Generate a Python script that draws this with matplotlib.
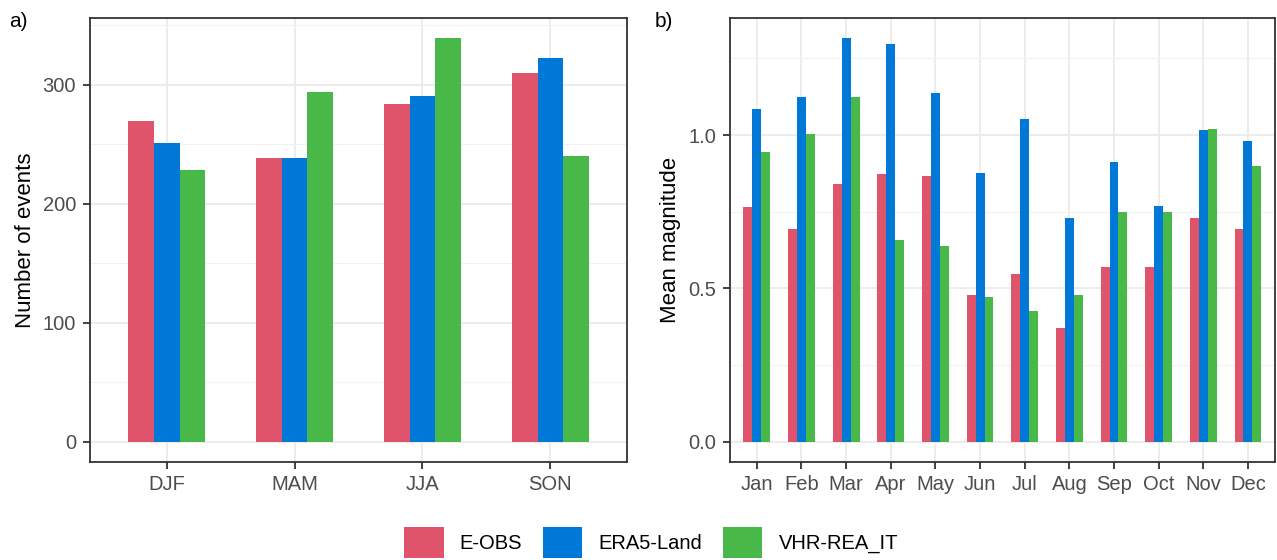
import numpy as np
import matplotlib
matplotlib.use("Agg")
import matplotlib.pyplot as plt
from matplotlib.ticker import MultipleLocator, FormatStrFormatter

plt.rcParams["font.family"] = ["Liberation Sans", "DejaVu Sans"]

# data
seasons = ["DJF", "MAM", "JJA", "SON"]
season_eobs = [269, 238, 284, 310]
season_era5 = [251, 238, 290, 322]
season_vhr = [228, 294, 339, 240]

months = ["Jan", "Feb", "Mar", "Apr", "May", "Jun",
          "Jul", "Aug", "Sep", "Oct", "Nov", "Dec"]
month_eobs = [0.764, 0.694, 0.841, 0.874, 0.867, 0.480,
              0.548, 0.371, 0.571, 0.569, 0.729, 0.695]
month_era5 = [1.086, 1.125, 1.316, 1.297, 1.137, 0.875,
              1.051, 0.731, 0.912, 0.769, 1.017, 0.979]
month_vhr = [0.944, 1.005, 1.123, 0.659, 0.638, 0.471,
             0.425, 0.479, 0.749, 0.749, 1.020, 0.899]

dataset_names = ["E-OBS", "ERA5-Land", "VHR-REA_IT"]
colors = ["#DF536B", "#0078D7", "#48B848"]


def style_axes(ax, cats, ymax, major, minor):
    """ggplot theme_bw look."""
    n = len(cats)
    ax.set_xlim(0.4, n + 0.6)
    ax.set_ylim(-0.05 * ymax, ymax * 1.05)
    ax.set_xticks(np.arange(1, n + 1))
    ax.set_xticklabels(cats)
    ax.yaxis.set_major_locator(MultipleLocator(major))
    ax.yaxis.set_minor_locator(MultipleLocator(minor))
    ax.grid(True, which="major", color="#EBEBEB", linewidth=1.3, zorder=0)
    ax.grid(True, which="minor", axis="y", color="#F2F2F2", linewidth=0.8, zorder=0)
    ax.set_axisbelow(True)
    for s in ax.spines.values():
        s.set_color("#333333")
        s.set_linewidth(1.3)
    ax.tick_params(which="major", length=5, width=1.3, color="#333333",
                   labelcolor="#4D4D4D", labelsize=14.5)
    ax.tick_params(axis="y", which="major", pad=5)
    ax.tick_params(axis="x", which="major", pad=4.5)
    ax.tick_params(which="minor", length=0)


def grouped_bars(ax, cats, series):
    x = np.arange(1, len(cats) + 1)
    w = 0.2
    bars = []
    for i, (vals, c) in enumerate(zip(series, colors)):
        bars.append(ax.bar(x + (i - 1) * w, vals, width=w, color=c,
                           linewidth=0, zorder=3))
    return bars


fig = plt.figure(figsize=(12.77, 5.6), dpi=100)
ax1 = fig.add_axes([0.0705, 0.175, 0.4205, 0.793])
ax2 = fig.add_axes([0.5717, 0.175, 0.4265, 0.793])

handles = grouped_bars(ax1, seasons, [season_eobs, season_era5, season_vhr])
style_axes(ax1, seasons, max(season_vhr), 100, 50)
ax1.set_ylabel("Number of events", fontsize=16, labelpad=5)

grouped_bars(ax2, months, [month_eobs, month_era5, month_vhr])
style_axes(ax2, months, max(month_era5), 0.5, 0.25)
ax2.yaxis.set_major_formatter(FormatStrFormatter("%.1f"))
ax2.set_ylabel("Mean magnitude", fontsize=16, labelpad=5)

fig.text(0.007, 0.962, "a)", fontsize=15, va="center")
fig.text(0.513, 0.962, "b)", fontsize=15, va="center")

fig.legend(handles, dataset_names, loc="center", bbox_to_anchor=(0.51, 0.031),
           ncol=3, frameon=False, fontsize=14.5, handlelength=1.94, handleheight=1.94,
           handletextpad=0.8, columnspacing=1.05)

fig.savefig("out.png", dpi=100)
